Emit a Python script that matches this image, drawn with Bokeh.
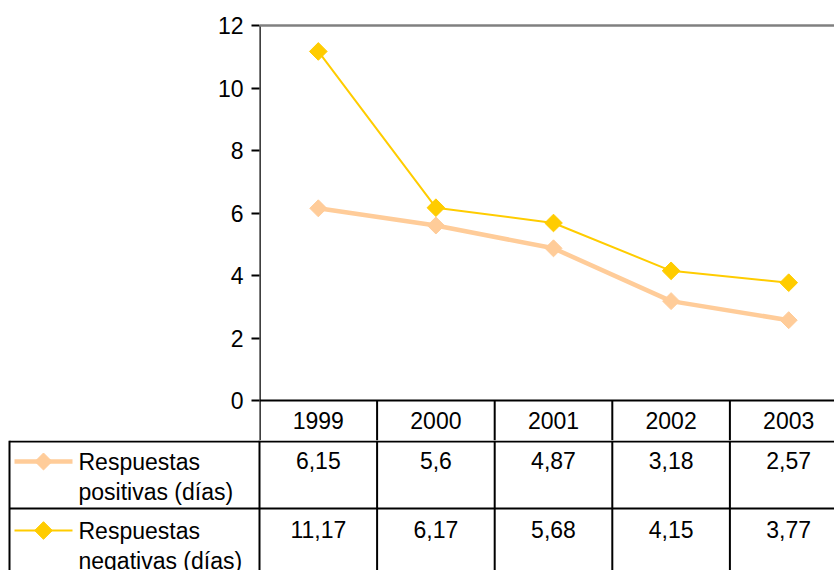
import math
from bokeh.plotting import figure
from bokeh.models import Range1d, FixedTicker, Span, ColumnDataSource
from bokeh.layouts import column
from bokeh.embed import file_html
from bokeh.resources import INLINE
from bokeh.core.properties import value

# ---- data ----
years = ["1999", "2000", "2001", "2002", "2003"]
positivas = [6.15, 5.6, 4.87, 3.18, 2.57]
negativas = [11.17, 6.17, 5.68, 4.15, 3.77]
series_names = ["Respuestas\npositivas (días)", "Respuestas\nnegativas (días)"]
series_colors = ["#FFCC99", "#FFCC00"]
y_ticks = [0, 2, 4, 6, 8, 10, 12]

FONT = value("Liberation Sans")
FS = "23px"

W = 834
H_TOP = 440
H_BOT = 130
LEFT = 259          # px from canvas left to plot frame
PX_PER_UNIT = 31.25
PAD_TOP = 2         # extra px above the 12 line
TOP = 25 - PAD_TOP
CAT_PX = 117.6      # px per category column

x_end = (W - LEFT) / CAT_PX
y_bottom = -40 / PX_PER_UNIT
y_top = 12 + PAD_TOP / PX_PER_UNIT

# ---- top figure: chart + header row ----
p = figure(width=W, height=H_TOP, output_backend="svg", toolbar_location=None,
           x_range=Range1d(0, x_end), y_range=Range1d(y_bottom, y_top),
           min_border_left=LEFT, min_border_right=0, min_border_top=TOP,
           min_border_bottom=0, x_axis_location=None)
p.outline_line_color = None
p.xgrid.visible = False
p.ygrid.visible = False
p.background_fill_color = "white"
p.border_fill_color = "white"
try:
    p.frame_align = False
except Exception:
    pass

ax = p.yaxis[0]
ax.ticker = FixedTicker(ticks=y_ticks)
ax.major_tick_out = 8
ax.major_tick_in = 0
ax.minor_tick_line_color = None
ax.axis_line_color = None
ax.major_tick_line_width = 2
ax.major_tick_line_color = "black"
ax.major_label_text_font = "Liberation Sans"
ax.major_label_text_font_size = FS
ax.major_label_text_color = "black"
ax.major_label_standoff = 8

# y axis line (from 12 down through the header row)
p.segment(x0=[0], y0=[12], x1=[0], y1=[y_bottom], line_color="black", line_width=2.5)
# top gray border line at 12
p.add_layout(Span(location=12, dimension="width", line_color="#808080", line_width=2.5))
# x axis line at 0
p.add_layout(Span(location=0, dimension="width", line_color="black", line_width=2))

n = len(years)
xc = [i + 0.5 for i in range(n)]

# header column separators
sep_x = [float(i) for i in range(1, n + 1)]
p.segment(x0=sep_x, y0=[0] * len(sep_x), x1=sep_x, y1=[y_bottom] * len(sep_x),
          line_color="black", line_width=2)

# header labels
p.text(x=xc, y=[-0.64] * n, text=years, text_font=FONT, text_font_size=FS,
       text_align="center", text_baseline="middle", text_color="black")

# series
for vals, col, lw, ms in [(positivas, series_colors[0], 4.5, 12),
                          (negativas, series_colors[1], 2, 12.5)]:
    src = ColumnDataSource(dict(x=xc, y=vals))
    p.line("x", "y", source=src, line_color=col, line_width=lw)
    p.scatter("x", "y", source=src, marker="square", angle=math.pi / 4, size=ms,
              fill_color=col, line_color=col)

# ---- bottom figure: data table ----
x0 = -LEFT / CAT_PX
x1 = x0 + W / CAT_PX
t = figure(width=W, height=H_BOT, output_backend="svg", toolbar_location=None,
           x_range=Range1d(x0, x1), y_range=Range1d(H_BOT, 0),
           min_border_left=0, min_border_right=0, min_border_top=0,
           min_border_bottom=0, x_axis_location=None, y_axis_location=None)
t.outline_line_color = None
t.xgrid.visible = False
t.ygrid.visible = False
try:
    t.frame_align = False
except Exception:
    pass

ROW_H = 68
left_edge = x0 + 9 / CAT_PX
# horizontal lines
t.segment(x0=[left_edge, left_edge], y0=[1, ROW_H], x1=[x1, x1], y1=[1, ROW_H],
          line_color="black", line_width=2)
# vertical lines
vx = [left_edge] + [float(i) for i in range(0, n + 1)]
t.segment(x0=vx, y0=[0] * len(vx), x1=vx, y1=[H_BOT] * len(vx),
          line_color="black", line_width=2)

row_centers = [21, 21 + ROW_H + 1]
LINE_GAP = 30
sw_x0 = 14 / CAT_PX + x0
sw_x1 = 72 / CAT_PX + x0
sw_m = 43 / CAT_PX + x0
lab_x = 78 / CAT_PX + x0

for r, (vals, name, col, lw, ms) in enumerate([
        (positivas, series_names[0], series_colors[0], 4.5, 12),
        (negativas, series_names[1], series_colors[1], 2, 12.5)]):
    yc = row_centers[r]
    t.line(x=[sw_x0, sw_x1], y=[yc, yc], line_color=col, line_width=lw)
    t.scatter(x=[sw_m], y=[yc], marker="square", angle=math.pi / 4, size=ms,
              fill_color=col, line_color=col)
    lines = name.split("\n")
    t.text(x=[lab_x] * len(lines), y=[yc + k * LINE_GAP for k in range(len(lines))],
           text=lines, text_font=FONT, text_font_size=FS, text_align="left",
           text_baseline="middle", text_color="black")
    labels = [f"{v:g}".replace(".", ",") for v in vals]
    t.text(x=xc, y=[yc - 1] * n, text=labels, text_font=FONT, text_font_size=FS,
           text_align="center", text_baseline="middle", text_color="black")

layout = column(p, t, spacing=0)
open("out.html", "w").write(file_html(layout, INLINE))
